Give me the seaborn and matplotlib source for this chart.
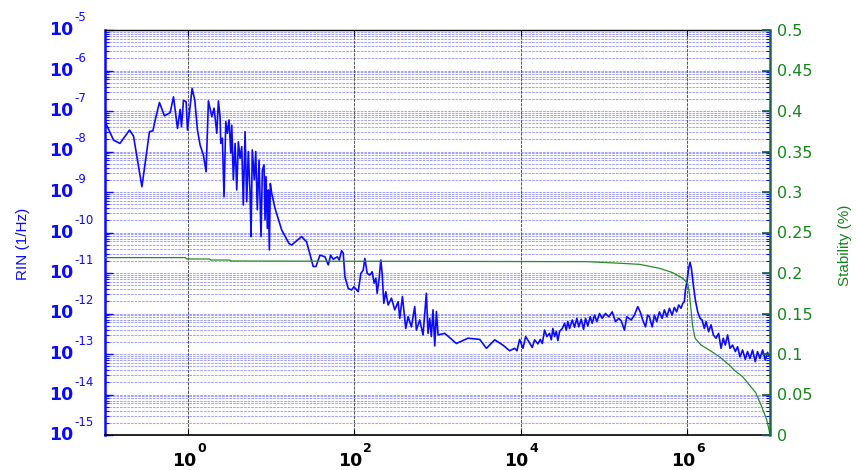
import numpy as np
import pandas as pd
import matplotlib
matplotlib.use("Agg")
import matplotlib.pyplot as plt
from matplotlib.ticker import FixedLocator, LogLocator, NullFormatter, NullLocator
import seaborn as sns

# ---- RIN spectrum: log10(frequency / Hz) and log10(RIN / (1/Hz)) ----
rin_log_freq = [
    -1.000, -0.897, -0.820, -0.705, -0.657, -0.556, -0.465, -0.424, -0.396, -0.345,
    -0.285, -0.216, -0.176, -0.128, -0.096, -0.080, -0.056, -0.024, -0.008, 0.048,
    0.080, 0.112, 0.144, 0.184, 0.216, 0.244, 0.285, 0.312,
    0.345, 0.364, 0.384, 0.393, 0.412, 0.432, 0.453, 0.472, 0.492, 0.513,
    0.525, 0.544, 0.565, 0.585, 0.604, 0.625, 0.645, 0.664, 0.685, 0.705,
    0.724, 0.745, 0.757, 0.772, 0.796, 0.813, 0.832, 0.853, 0.877, 0.893,
    0.913, 0.925, 0.937, 0.953, 0.965, 0.977, 0.989, 1.005, 1.045, 1.126, 1.213,
    1.245, 1.365, 1.425, 1.505, 1.538, 1.586, 1.646, 1.686, 1.714, 1.746,
    1.794, 1.818, 1.846, 1.866, 1.886, 1.926, 1.966, 1.994, 2.046, 2.078,
    2.106, 2.126, 2.154, 2.186, 2.214, 2.238, 2.258, 2.274, 2.298, 2.318,
    2.334, 2.354, 2.378, 2.406, 2.446, 2.486, 2.526, 2.546, 2.578, 2.618,
    2.646, 2.686, 2.726, 2.746, 2.786, 2.826, 2.866, 2.886, 2.906, 2.926,
    2.946, 2.967, 2.987, 3.007, 3.087, 3.227, 3.367, 3.508, 3.588, 3.688,
    3.787, 3.868, 3.928, 3.956, 3.988, 4.028, 4.060,
    4.100, 4.140, 4.168, 4.208, 4.237, 4.261, 4.288, 4.316, 4.348, 4.369,
    4.388, 4.408, 4.429, 4.448, 4.469, 4.501, 4.529, 4.549, 4.568, 4.589,
    4.621, 4.649, 4.676, 4.700, 4.729, 4.757, 4.781, 4.808, 4.837, 4.861,
    4.889, 4.917, 4.949, 4.981, 5.021, 5.061, 5.102, 5.141, 5.181, 5.210,
    5.249, 5.277, 5.330, 5.369, 5.409, 5.438, 5.469, 5.502, 5.529,
    5.549, 5.582, 5.610, 5.637, 5.670, 5.702, 5.730, 5.758, 5.790, 5.822,
    5.850, 5.877, 5.902, 5.930, 5.950, 5.970, 5.982, 6.002, 6.022, 6.038,
    6.054, 6.078, 6.102, 6.130, 6.159, 6.183, 6.210, 6.231, 6.262, 6.291,
    6.319, 6.351, 6.382, 6.411, 6.438, 6.462, 6.490, 6.519, 6.550, 6.583,
    6.610, 6.639, 6.670, 6.703, 6.730, 6.759, 6.790, 6.823, 6.850, 6.879,
    6.911, 6.943, 6.970, 6.990,
]
rin_log_value = [
    -7.26, -7.72, -7.80, -7.47, -7.62, -8.87, -7.51, -7.49, -7.22, -6.79,
    -7.12, -7.04, -6.65, -7.43, -6.96, -7.39, -6.74, -6.77, -7.47, -6.44,
    -6.73, -7.47, -7.84, -8.09, -8.50, -6.75, -7.14, -6.93,
    -7.55, -6.75, -7.14, -7.80, -7.67, -9.12, -7.26, -7.55, -7.22, -8.04,
    -7.35, -8.70, -7.80, -8.95, -7.76, -8.17, -7.88, -9.32, -7.51, -9.24,
    -8.00, -9.03, -10.10, -7.96, -8.70, -8.00, -9.44, -8.21, -10.10, -8.46,
    -8.33, -9.69, -8.62, -9.90, -8.95, -10.43, -8.79, -9.03, -9.40, -9.94, -10.27,
    -10.31, -10.10, -10.23, -10.84, -10.84, -10.56, -10.60, -10.80, -10.56, -10.66,
    -10.60, -10.68, -10.45, -10.51, -11.09, -11.38, -11.42, -11.34, -11.46, -11.01,
    -10.93, -10.64, -11.01, -11.05, -10.97, -11.25, -11.13, -11.50, -11.13, -10.68,
    -11.01, -11.75, -11.46, -11.79, -11.62, -11.91, -11.71, -12.12, -11.58, -12.37,
    -12.08, -12.33, -11.83, -12.41, -12.16, -12.53, -11.50, -12.49, -12.12, -12.57,
    -11.91, -12.80, -11.95, -12.53, -12.49, -12.74, -12.61, -12.64, -12.86, -12.65,
    -12.78, -12.92, -12.86, -12.92, -12.64, -12.86, -12.57,
    -12.70, -12.84, -12.65, -12.75, -12.64, -12.74, -12.41, -12.57, -12.49, -12.65,
    -12.37, -12.57, -12.44, -12.67, -12.44, -12.37, -12.24, -12.41, -12.20, -12.37,
    -12.16, -12.34, -12.12, -12.33, -12.14, -12.39, -12.12, -12.31, -12.08, -12.24,
    -12.04, -12.20, -12.00, -12.12, -12.00, -12.08, -11.96, -12.20, -12.12, -12.18,
    -12.41, -12.08, -12.16, -12.04, -11.83, -11.96, -12.16, -12.33, -12.04,
    -12.08, -12.33, -12.04, -12.20, -11.96, -12.12, -11.91, -12.08, -11.87, -12.04,
    -11.85, -11.96, -11.79, -11.87, -11.75, -11.71, -11.42, -11.21, -10.88, -10.74,
    -10.88, -11.30, -11.67, -11.96, -12.12, -12.16, -12.37, -12.20, -12.45, -12.28,
    -12.53, -12.61, -12.49, -12.86, -12.61, -12.78, -12.53, -12.86, -12.78, -12.94,
    -12.82, -13.07, -12.90, -13.13, -12.94, -13.11, -12.90, -13.19, -12.94, -13.11,
    -12.90, -13.15, -12.96, -13.05,
]

# ---- Integrated stability: log10(frequency / Hz) and stability in % ----
stab_log_freq = [
    -1.00, -0.03, -0.02, 0.26, 0.27, 0.50, 0.51, 4.80, 5.20, 5.43,
    5.67, 5.83, 5.95, 6.01, 6.03, 6.05, 6.07, 6.10, 6.17, 6.27,
    6.39, 6.51, 6.57, 6.67, 6.83, 6.90, 6.96, 6.985, 7.00,
]
stab_value = [
    0.2190, 0.2190, 0.2173, 0.2173, 0.2160, 0.2160, 0.2148, 0.2140, 0.2120, 0.2107,
    0.2058, 0.2004, 0.1934, 0.1872, 0.1749, 0.1543, 0.1337, 0.1193, 0.1111, 0.1049,
    0.0967, 0.0864, 0.0800, 0.0720, 0.0520, 0.0350, 0.0190, 0.0080, 0.0000,
]

# ---- axis ticks ----
freq_tick_exponents = [0, 2, 4, 6]
rin_tick_exponents = list(range(-15, -4))
stab_ticks = [0, 0.05, 0.1, 0.15, 0.2, 0.25, 0.3, 0.35, 0.4, 0.45, 0.5]
stab_tick_labels = ["0", "0.05", "0.1", "0.15", "0.2", "0.25",
                    "0.3", "0.35", "0.4", "0.45", "0.5"]

BLUE = "#0a0aff"
GREEN_LINE = "#2a8a2a"
GREEN_TEXT = "#14861a"
GREEN_SPINE = "#1d6648"

sns.set_style("white")
plt.rcParams["font.family"] = ["DejaVu Sans"]

fig = plt.figure(figsize=(8.57, 4.70), dpi=100)
ax = fig.add_axes([105 / 857, 35 / 470, 665 / 857, 405 / 470])
ax.set_xscale("log")
ax.set_yscale("log")
ax2 = ax.twinx()

rin_df = pd.DataFrame({
    "freq": np.power(10.0, rin_log_freq),
    "rin": np.power(10.0, rin_log_value),
})
stab_df = pd.DataFrame({
    "freq": np.power(10.0, stab_log_freq),
    "stability": stab_value,
})

sns.lineplot(data=rin_df, x="freq", y="rin", ax=ax, color=BLUE, lw=1.2,
             sort=False, estimator=None, zorder=3)
sns.lineplot(data=stab_df, x="freq", y="stability", ax=ax2, color=GREEN_LINE,
             lw=0.9, sort=False, estimator=None, zorder=2)

ax.set_xlim(1e-1, 1e7)
ax.set_ylim(1e-15, 1e-5)
ax2.set_ylim(0, 0.5)
ax.set_xlabel("")
ax.set_ylabel("")
ax2.set_ylabel("")

# x axis: decades every two powers, vertical grid only there
freq_ticks = [10.0 ** e for e in freq_tick_exponents]
ax.xaxis.set_major_locator(FixedLocator(freq_ticks))
ax.xaxis.set_minor_locator(NullLocator())
ax.xaxis.set_major_formatter(NullFormatter())
ax.tick_params(axis="x", which="major", direction="in", length=4, width=0.8,
               top=True, bottom=True, color="black", labelbottom=False)
ax.xaxis.grid(True, which="major", color="#5a5a5a", lw=0.75, ls=(0, (3, 1)))

# left log axis with full minor grid
rin_ticks = [10.0 ** e for e in rin_tick_exponents]
ax.yaxis.set_major_locator(FixedLocator(rin_ticks))
ax.yaxis.set_minor_locator(LogLocator(base=10, subs=np.arange(2, 10), numticks=40))
ax.yaxis.set_major_formatter(NullFormatter())
ax.yaxis.set_minor_formatter(NullFormatter())
ax.tick_params(axis="y", which="major", direction="in", length=6, width=1.0,
               left=True, right=True, color=BLUE, labelleft=False)
ax.tick_params(axis="y", which="minor", direction="in", length=3, width=0.8,
               left=True, right=True, color=BLUE)
ax.yaxis.grid(True, which="both", color="#4a4aff", lw=0.75, ls=(0, (2.5, 1)),
              alpha=0.5)
ax.set_axisbelow(True)

# right linear axis
ax2.set_yticks(stab_ticks)
ax2.set_yticklabels(stab_tick_labels)
ax2.yaxis.set_minor_locator(NullLocator())
ax2.tick_params(axis="y", which="major", direction="in", length=6, width=1.2,
                color=GREEN_SPINE, labelcolor=GREEN_TEXT, labelsize=11.5, pad=5)
ax2.grid(False)

# spines
for a in (ax, ax2):
    for s in a.spines.values():
        s.set_visible(False)
ax.spines["top"].set_visible(True)
ax.spines["bottom"].set_visible(True)
ax.spines["left"].set_visible(True)
ax.spines["top"].set_color("black")
ax.spines["bottom"].set_color("black")
ax.spines["top"].set_linewidth(1.0)
ax.spines["bottom"].set_linewidth(1.2)
ax.spines["left"].set_color(BLUE)
ax.spines["left"].set_linewidth(1.8)
ax2.spines["right"].set_visible(True)
ax2.spines["right"].set_color(GREEN_SPINE)
ax2.spines["right"].set_linewidth(1.8)

# power-of-ten tick labels: mantissa plus raised exponent
ytrans = ax.get_yaxis_transform()
for e in rin_tick_exponents:
    ax.annotate("10", xy=(0, 10.0 ** e), xycoords=ytrans,
                xytext=(-32, 0), textcoords="offset pixels",
                ha="right", va="center", fontsize=12.5, fontweight="bold",
                color=BLUE, annotation_clip=False)
    ax.annotate(f"-{abs(e)}", xy=(0, 10.0 ** e), xycoords=ytrans,
                xytext=(-31, 12.5), textcoords="offset pixels",
                ha="left", va="center", fontsize=8.5, color=BLUE,
                annotation_clip=False)

xtrans = ax.get_xaxis_transform()
for e in freq_tick_exponents:
    ax.annotate("10", xy=(10.0 ** e, 0), xycoords=xtrans,
                xytext=(-4, -26.5), textcoords="offset pixels",
                ha="center", va="center", fontsize=12.5, fontweight="bold",
                color="black", annotation_clip=False)
    ax.annotate(f"{e}", xy=(10.0 ** e, 0), xycoords=xtrans,
                xytext=(9, -13), textcoords="offset pixels",
                ha="left", va="center", fontsize=9, fontweight="bold",
                color="black", annotation_clip=False)

# axis titles
ax.set_ylabel("RIN (1/Hz)", color=BLUE, fontsize=11,
              family=["Liberation Sans", "DejaVu Sans"])
ax.yaxis.set_label_coords((23 - 105) / 665, (435 - 244) / 405)
ax.yaxis.label.set_va("center")
ax2.set_ylabel("Stability (%)", color=GREEN_TEXT, fontsize=11,
               family=["Liberation Sans", "DejaVu Sans"])
ax2.yaxis.set_label_coords((845 - 105) / 665, (435 - 245) / 405)
ax2.yaxis.label.set_va("center")

fig.savefig("out.png", dpi=100)
